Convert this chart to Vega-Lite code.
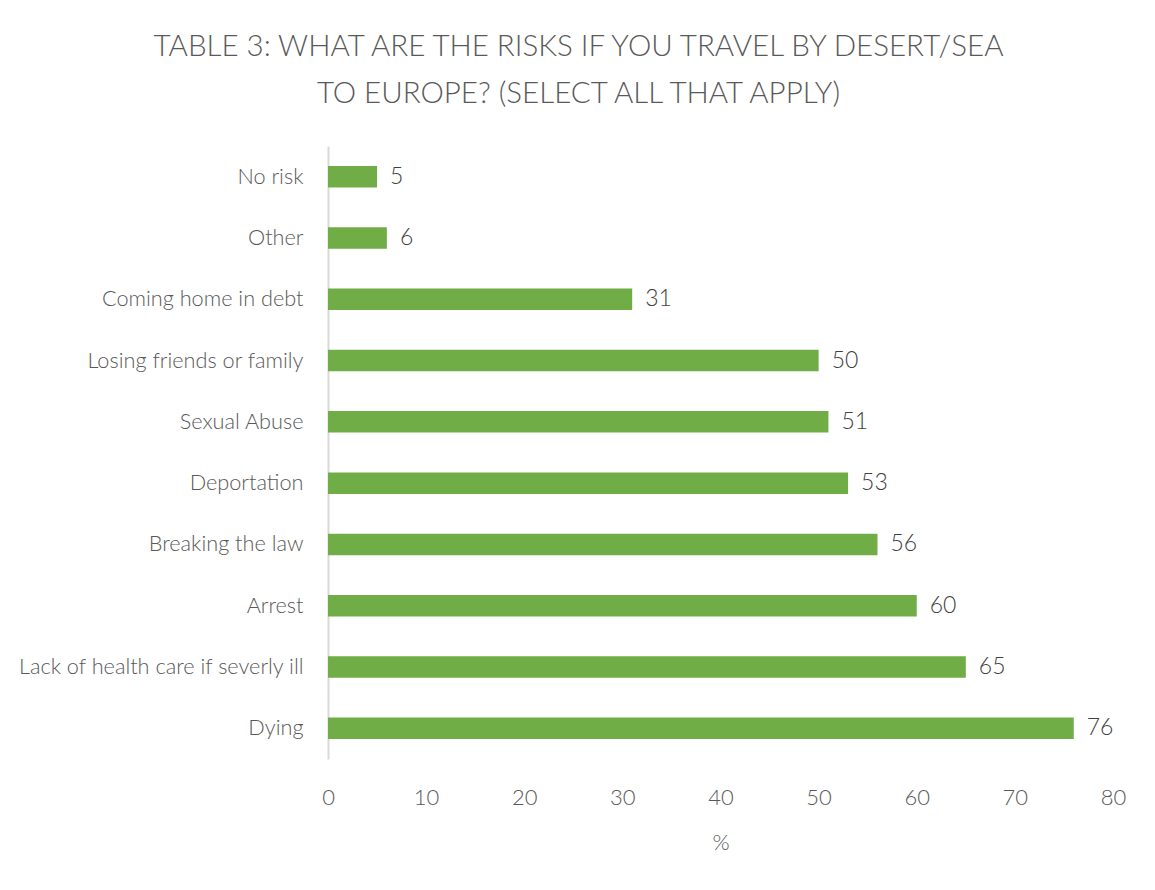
{
  "$schema": "https://vega.github.io/schema/vega-lite/v6.json",
  "width": 785,
  "height": 613,
  "autosize": {"type": "none"},
  "padding": {"left": 328, "top": 146, "right": 42, "bottom": 131},
  "background": "white",
  "title": {
    "text": ["TABLE 3: WHAT ARE THE RISKS IF YOU TRAVEL BY DESERT/SEA", "TO EUROPE? (SELECT ALL THAT APPLY)"],
    "font": "Lato",
    "fontSize": 29.5,
    "fontWeight": 300,
    "color": "#595959",
    "lineHeight": 47,
    "anchor": "middle",
    "dx": -142,
    "offset": 37
  },
  "data": {
    "values": [
      {"risk": "No risk", "pct": 5},
      {"risk": "Other", "pct": 6},
      {"risk": "Coming home in debt", "pct": 31},
      {"risk": "Losing friends or family", "pct": 50},
      {"risk": "Sexual Abuse", "pct": 51},
      {"risk": "Deportation", "pct": 53},
      {"risk": "Breaking the law", "pct": 56},
      {"risk": "Arrest", "pct": 60},
      {"risk": "Lack of health care if severly ill", "pct": 65},
      {"risk": "Dying", "pct": 76}
    ]
  },
  "encoding": {
    "y": {
      "field": "risk",
      "type": "nominal",
      "sort": null,
      "scale": {"paddingInner": 0.65, "paddingOuter": 0.325},
      "axis": {
        "title": null,
        "ticks": false,
        "domainColor": "#d9d9d9",
        "domainWidth": 2,
        "labelFont": "Lato",
        "labelFontSize": 21.7,
        "labelFontWeight": 300,
        "labelColor": "#595959",
        "labelPadding": 25,
        "labelLimit": 400
      }
    },
    "x": {
      "field": "pct",
      "type": "quantitative",
      "scale": {"domain": [0, 80], "nice": false},
      "axis": {
        "title": "%",
        "titleFont": "Lato",
        "titleFontSize": 22,
        "titleFontWeight": 300,
        "titleColor": "#595959",
        "titlePadding": 24,
        "values": [0, 10, 20, 30, 40, 50, 60, 70, 80],
        "grid": false,
        "ticks": false,
        "domain": false,
        "labelFlush": false,
        "labelFont": "Lato",
        "labelFontSize": 22,
        "labelFontWeight": 300,
        "labelColor": "#595959",
        "labelPadding": 28
      }
    }
  },
  "layer": [
    {"mark": {"type": "bar", "color": "#70ad47"}},
    {
      "mark": {"type": "text", "align": "left", "dx": 13, "font": "Lato", "fontSize": 23, "fontWeight": 300, "color": "#404040"},
      "encoding": {"text": {"field": "pct", "type": "quantitative"}}
    }
  ],
  "config": {"view": {"stroke": null}}
}
